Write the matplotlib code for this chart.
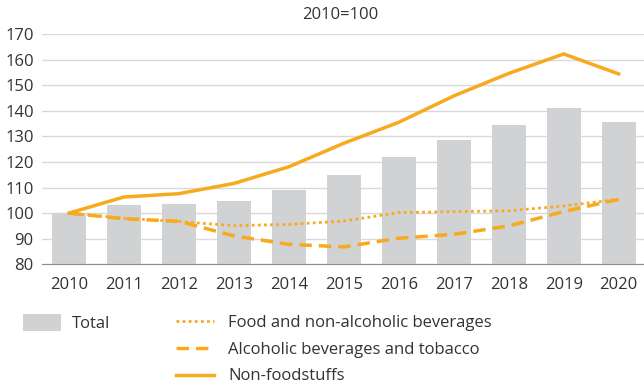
import numpy as np
import matplotlib.pyplot as plt

years = ['2010', '2011', '2012', '2013', '2014', '2015', '2016', '2017', '2018', '2019', '2020']
total = [100, 103.0, 103.6, 104.8, 108.9, 114.9, 121.9, 128.6, 134.6, 141.0, 135.5]
food = [100, 98.0, 96.7, 95.1, 95.6, 96.9, 100.2, 100.6, 100.9, 102.8, 105.4]
alcohol = [100, 97.8, 96.8, 91.1, 87.8, 86.8, 90.2, 91.7, 95.0, 100.6, 105.4]
non_food = [100, 106.3, 107.6, 111.6, 118.1, 127.3, 135.5, 145.8, 154.6, 162.2, 154.4]

orange = '#F8AA1F'
grey_bar = '#D1D2D4'
txt = '#333333'
fs = 12

plt.rcParams['font.family'] = ['Open Sans', 'DejaVu Sans']
plt.rcParams['font.size'] = fs

fig = plt.figure(figsize=(6.44, 3.86), dpi=100)
ax = fig.add_axes([42 / 644, 1 - 264.3 / 386, 602 / 644, (264.3 - 34) / 386])

x = np.arange(len(years))
bars = ax.bar(x, np.array(total) - 80, bottom=80, width=0.62, color=grey_bar, zorder=2, label='Total')
l1, = ax.plot(x, food, color=orange, lw=2, ls=(0, (1, 1.2)), zorder=3, label='Food and non-alcoholic beverages')
l2, = ax.plot(x, alcohol, color=orange, lw=2.5, ls=(0, (3.6, 2)), zorder=3, label='Alcoholic beverages and tobacco')
l3, = ax.plot(x, non_food, color=orange, lw=2.5, zorder=3, label='Non-foodstuffs')

ax.set_ylim(80, 170)
ax.set_xlim(-0.49, 10.46)
ax.set_yticks(range(80, 171, 10))
ax.set_xticks(x)
ax.set_xticklabels(years)
ax.yaxis.grid(True, color='#D9D9D9', lw=1, zorder=0)
ax.set_axisbelow(True)
for s in ['left', 'right', 'top']:
    ax.spines[s].set_visible(False)
ax.spines['bottom'].set_color('#8C8C8C')
ax.tick_params(axis='both', length=0, colors=txt, labelsize=fs)
ax.tick_params(axis='y', pad=6)
ax.tick_params(axis='x', pad=9)

fig.text(340 / 644, 1 - 15 / 386, '2010=100', ha='center', va='center', color=txt, fontsize=fs)

fig.legend(handles=[bars], loc='upper left', bbox_to_anchor=(23 / 644, 1 - 314 / 386),
           frameon=False, borderpad=0, borderaxespad=0, handlelength=2.28, handleheight=1.2,
           handletextpad=0.66, labelcolor=txt, fontsize=fs)
fig.legend(handles=[l1, l2, l3], loc='upper left', bbox_to_anchor=(176 / 644, 1 - 315 / 386),
           frameon=False, borderpad=0, borderaxespad=0, handlelength=2.28,
           handletextpad=0.84, labelspacing=0.64, labelcolor=txt, fontsize=fs)

fig.savefig('out.png', dpi=100)
